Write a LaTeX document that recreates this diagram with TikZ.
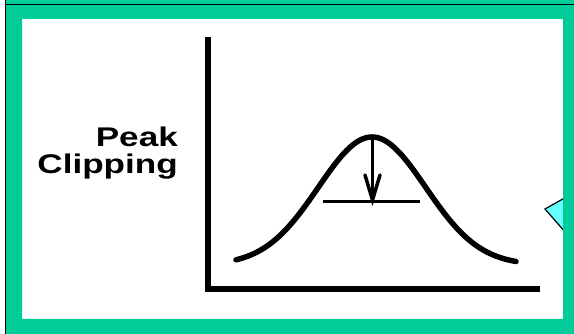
\documentclass[tikz,border=0pt]{standalone}
\usepackage{fontspec}
\setmainfont{Liberation Sans}
\definecolor{frame}{HTML}{00CC99}
\definecolor{callout}{HTML}{66FFFF}
\begin{document}
\begin{tikzpicture}[x=1pt,y=-1pt,
  axis/.style={line width=6pt},
  curveline/.style={line width=5.5pt,line cap=round,line join=round},
  thin/.style={line width=2.6pt},
  label/.style={font=\bfseries\fontsize{27}{29}\selectfont,align=right,anchor=east,inner sep=0pt}]
\useasboundingbox (0,0) rectangle (574,334);
\fill[white] (0,0) rectangle (574,334);
% callout triangle (behind the frame)
\filldraw[fill=callout,draw=black,line width=1.2pt] (545,209) -- (600,178) -- (600,272) -- cycle;
% green frame
\fill[frame,even odd rule] (6,0) rectangle (574,334) (22,19) rectangle (563,319);
\draw[line width=1.6pt] (5.5,0) -- (5.5,334);
\draw[line width=1.6pt] (5.5,4.5) -- (574,4.5);
% axes
\coordinate (ytop) at (207.5,37);
\coordinate (origin) at (207.5,289);
\coordinate (xend) at (540,289);
\draw[axis,line join=miter] (ytop) -- (origin) -- (xend);
% curve
\draw[curveline] plot[domain=236:516,samples=120,smooth] (\x,{265-128*exp(-0.5*((\x-372)/53.7)^2)});
\coordinate (peak) at (372.5,137);
\coordinate (tip) at (372.5,200);
\coordinate (cl) at (323,201.5);
\coordinate (cr) at (420,201.5);
\draw[thin] (cl) -- (cr);
\draw[thin] (peak) -- (tip);
\draw[line width=3.5pt,line join=miter,line cap=round] (365,175) -- (tip) -- (380,175);
% label
\node[label] (lbl) at (178,153) {\scalebox{1.3}[1]{Peak}\\[-2pt]\scalebox{1.3}[1]{Clipping}};
\end{tikzpicture}
\end{document}
